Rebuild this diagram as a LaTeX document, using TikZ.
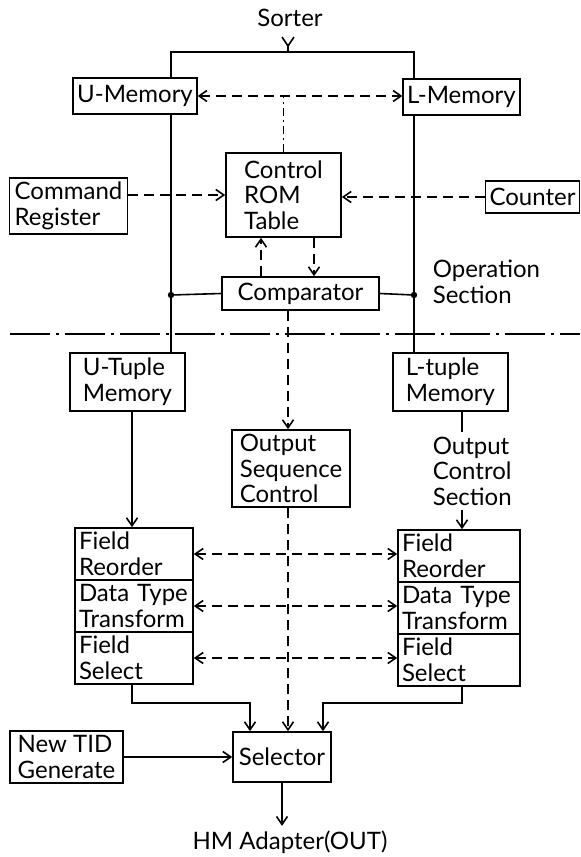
\documentclass[tikz,border=0pt]{standalone}
\usepackage{fontspec}
\setmainfont{Lato}
\usetikzlibrary{arrows.meta}

\begin{document}
\begin{tikzpicture}[x=0.5pt, y=-0.5pt, line width=0.8pt,
		>={Straight Barb[length=4pt,width=5.5pt]},
		every node/.style={font=\fontsize{12}{12.8}\selectfont, align=left, inner sep=2pt},
		block/.style={draw, rectangle},
		stack/.style={block, minimum height=26pt},
		link/.style={dash pattern=on 5pt off 3pt}]
	\useasboundingbox (0,0) rectangle (580,857);

	% operation section
	\node (sorter) at (290,18) {Sorter};
	\node[block, minimum width=58pt, minimum height=18pt] (umem) at (135,96) {U-Memory};
	\node[block, minimum width=57.5pt, minimum height=18pt] (lmem) at (461.5,97) {L-Memory};
	\node[block, minimum width=59pt, minimum height=28pt] (cmdreg) at (68.5,206) {Command\\Register};
	\node[block, minimum width=57.5pt, minimum height=42pt] (rom) at (283.5,195) {Control\\ROM\\Table};
	\node[block, minimum width=45.5pt, minimum height=16pt] (counter) at (532.5,197) {Counter};
	\node[block, minimum width=78.5pt, minimum height=16.5pt] (comp) at (300.5,293.5) {Comparator};
	\node[anchor=west] (opsec) at (428,282) {Operation\\Section};

	% output control section
	\node[block, minimum width=57.5pt, minimum height=29pt] (utup) at (127.5,382) {U-Tuple\\Memory};
	\node[block, minimum width=57.5pt, minimum height=29pt] (ltup) at (450.5,382) {L-tuple\\Memory};
	\node[block, minimum width=59pt, minimum height=38.5pt] (osc) at (291,468.5) {Output\\Sequence\\Control};
	\node[anchor=north west] (octext) at (428,432) {Output\\Control\\Section};
	\node[stack, text width=55pt] (lfr) at (134,554) {Field\\Reorder};
	\node[stack, text width=55pt] (ldt) at (134,606) {Data Type\\Transform};
	\node[stack, text width=55pt] (lfs) at (134,658) {Field\\Select};
	\node[stack, text width=57pt] (rfr) at (459,556) {Field\\Reorder};
	\node[stack, text width=57pt] (rdt) at (459,608) {Data Type\\Transform};
	\node[stack, text width=57pt] (rfs) at (459,660) {Field\\Select};
	\node[block, minimum width=49pt, minimum height=25pt] (sel) at (282,757) {Selector};
	\node[block, minimum width=56.5pt, minimum height=26pt] (ntid) at (66.5,757) {New TID\\Generate};
	\node (hm) at (290,842) {HM Adapter(OUT)};

	\coordinate (fork) at (288,52);
	\coordinate (ltrunk) at (171,295);
	\coordinate (rtrunk) at (414,295);
	\coordinate (up) at (261,0);
	\coordinate (down) at (314,0);
	\coordinate (midx) at (288,0);
	\coordinate (sepl) at (10,334);
	\coordinate (sepr) at (580,334);
	\coordinate (lbend) at (132,703);
	\coordinate (rbend) at (462,703);
	\coordinate (lin) at (250,703);
	\coordinate (rin) at (323,703);

	% data paths
	\draw (umem.north -| ltrunk) -- (ltrunk |- fork) -- (rtrunk |- fork) -- (lmem.north -| rtrunk);
	\draw (fork) -- ++(0,-6) coordinate (forkv) -- ++(-6,-9) (forkv) -- ++(6,-9);
	\draw (umem.south -| ltrunk) -- (utup.north -| ltrunk);
	\draw (lmem.south -| rtrunk) -- (ltup.north -| rtrunk);
	\draw (ltrunk) -- (comp.west);
	\draw (comp.east) -- (rtrunk);
	\fill (ltrunk) circle (1.6pt) (rtrunk) circle (1.6pt);
	\draw[->] (utup.south -| lbend) -- (lfr.north -| lbend);
	\draw (ltup.south -| rbend) -- (octext.north -| rbend);
	\draw[->] (octext.south -| rbend) -- (rfr.north -| rbend);
	\draw[->] (lfs.south -| lbend) -- (lbend) -- (lin) -- (sel.north -| lin);
	\draw[->] (rfs.south -| rbend) -- (rbend) -- (rin) -- (sel.north -| rin);
	\draw[->] (ntid) -- (sel);
	\draw[->] (sel.south) -- (sel.south |- hm.north);

	% control paths
	\draw[link, <->] (umem.east) -- (umem.east -| lmem.west);
	\draw[dash pattern=on 4pt off 2pt on 1pt off 2pt] (rom.north) -- (rom.north |- umem.east);
	\draw[link, ->] (cmdreg.east |- rom.west) -- (rom.west);
	\draw[link, ->] (counter.west) -- (counter.west -| rom.east);
	\draw[link, ->] (comp.north -| up) -- (rom.south -| up);
	\draw[link, ->] (rom.south -| down) -- (comp.north -| down);
	\draw[link, ->] (comp.south -| midx) -- (osc.north -| midx);
	\draw[link, ->] (osc.south -| midx) -- (sel.north -| midx);
	\draw[link, <->] (lfr.east) -- (lfr.east -| rfr.west);
	\draw[link, <->] (ldt.east) -- (ldt.east -| rdt.west);
	\draw[link, <->] (lfs.east) -- (lfs.east -| rfs.west);
	\draw[dash pattern=on 20pt off 3pt on 1.5pt off 3pt] (sepl) -- (sepr);
\end{tikzpicture}
\end{document}
